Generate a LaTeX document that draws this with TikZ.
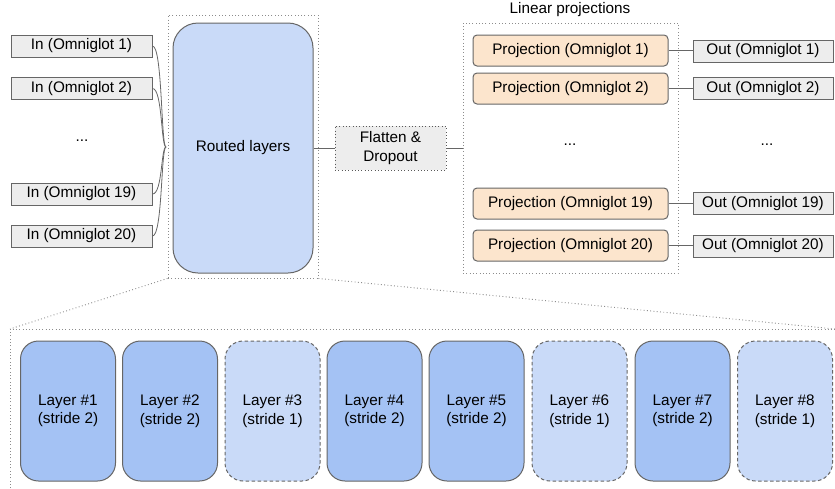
\documentclass[tikz,border=0pt]{standalone}
\usepackage{fontspec}
\setmainfont{Liberation Sans}
\begin{document}
\begin{tikzpicture}[x=1pt,y=-1pt,
  every node/.style={font=\fontsize{15.3}{18.5}\selectfont, inner sep=0pt, align=center},
  line/.style={draw=black!60, line width=1pt},
  grp/.style={draw=black!45, line width=0.9pt, dash pattern=on 0.9pt off 2.4pt},
  iobox/.style={draw=black!60, line width=1pt, fill=black!7, minimum height=22pt},
  inbox/.style={iobox, minimum width=141pt},
  outbox/.style={iobox, minimum width=140pt},
  projbox/.style={draw=black!60, line width=1pt, fill={rgb,255:red,252;green,229;blue,205}, rounded corners=4pt, minimum width=195pt, minimum height=31pt},
  layerbase/.style={line width=1pt, rounded corners=18pt, minimum width=95pt, minimum height=140pt},
  layerA/.style={layerbase, draw=black!60, fill={rgb,255:red,164;green,194;blue,244}},
  layerB/.style={layerbase, draw=black!60, dash pattern=on 3.5pt off 2.5pt, fill={rgb,255:red,201;green,218;blue,248}}
]
\useasboundingbox (0,0) rectangle (835,488);

% group boxes
\node[grp, minimum width=150pt, minimum height=263pt] (rgrp) at (243,146.5) {};
\node[grp, minimum width=215pt, minimum height=250pt] (lgrp) at (570.5,148) {};
\node (ltitle) at (570,10) {Linear projections};

% routed layers
\node[draw=black!60, line width=1pt, fill={rgb,255:red,201;green,218;blue,248}, rounded corners=25pt, minimum width=140pt, minimum height=250pt] (routed) at (243,148) {Routed layers};

% inputs
\node[inbox] (in1) at (81.5,46) {In (Omniglot 1)};
\node[inbox] (in2) at (81.5,88.5) {In (Omniglot 2)};
\node (indots) at (82,141) {...};
\node[inbox] (in19) at (81.5,194) {In (Omniglot 19)};
\node[inbox] (in20) at (81.5,236) {In (Omniglot 20)};
\coordinate (conv) at (166,147);
\foreach \n in {in1,in2,in19,in20}
  \draw[line, line width=0.8pt] (\n.east) .. controls +(10,0) and +(-5,0) .. (conv);

% flatten
\node[grp, draw=black!65, fill=black!7, minimum width=111pt, minimum height=44pt] (flat) at (390.5,148) {Flatten \&\\Dropout};
\draw[line] (routed.east |- flat.west) -- (flat.west);
\draw[line] (flat.east) -- (lgrp.west |- flat.east);

% projections
\node[projbox] (p1) at (570.5,50.5) {Projection (Omniglot 1)};
\node[projbox] (p2) at (570.5,88.5) {Projection (Omniglot 2)};
\node (pdots) at (570,145) {...};
\node[projbox] (p19) at (570.5,203.5) {Projection (Omniglot 19)};
\node[projbox] (p20) at (570.5,245.5) {Projection (Omniglot 20)};

% outputs
\node[outbox] (o1) at (763,51) {Out (Omniglot 1)};
\node[outbox] (o2) at (763,88.5) {Out (Omniglot 2)};
\node (odots) at (767,145) {...};
\node[outbox] (o19) at (763,203.5) {Out (Omniglot 19)};
\node[outbox] (o20) at (763,246) {Out (Omniglot 20)};
\foreach \a/\b in {p1/o1,p2/o2,p19/o19,p20/o20}
  \draw[line] (\a.east) -- (\a.east -| \b.west);

% zoom region
\coordinate (bl) at (10,329);
\coordinate (br) at (835,329);
\coordinate (bb) at (10,488);
\draw[grp] (rgrp.south west) -- (bl);
\draw[grp] (rgrp.south east) -- (br);
\draw[grp] (bb) -- (bl) -- (br);

% layers
\node[layerA] (l1) at (68,411) {Layer \#1\\(stride 2)};
\node[layerA] (l2) at (170,411) {Layer \#2\\(stride 2)};
\node[layerB] (l3) at (272.5,411) {Layer \#3\\(stride 1)};
\node[layerA] (l4) at (374.5,411) {Layer \#4\\(stride 2)};
\node[layerA] (l5) at (476.5,411) {Layer \#5\\(stride 2)};
\node[layerB] (l6) at (579.5,411) {Layer \#6\\(stride 1)};
\node[layerA] (l7) at (682.5,411) {Layer \#7\\(stride 2)};
\node[layerB] (l8) at (785,411) {Layer \#8\\(stride 1)};
\end{tikzpicture}
\end{document}
